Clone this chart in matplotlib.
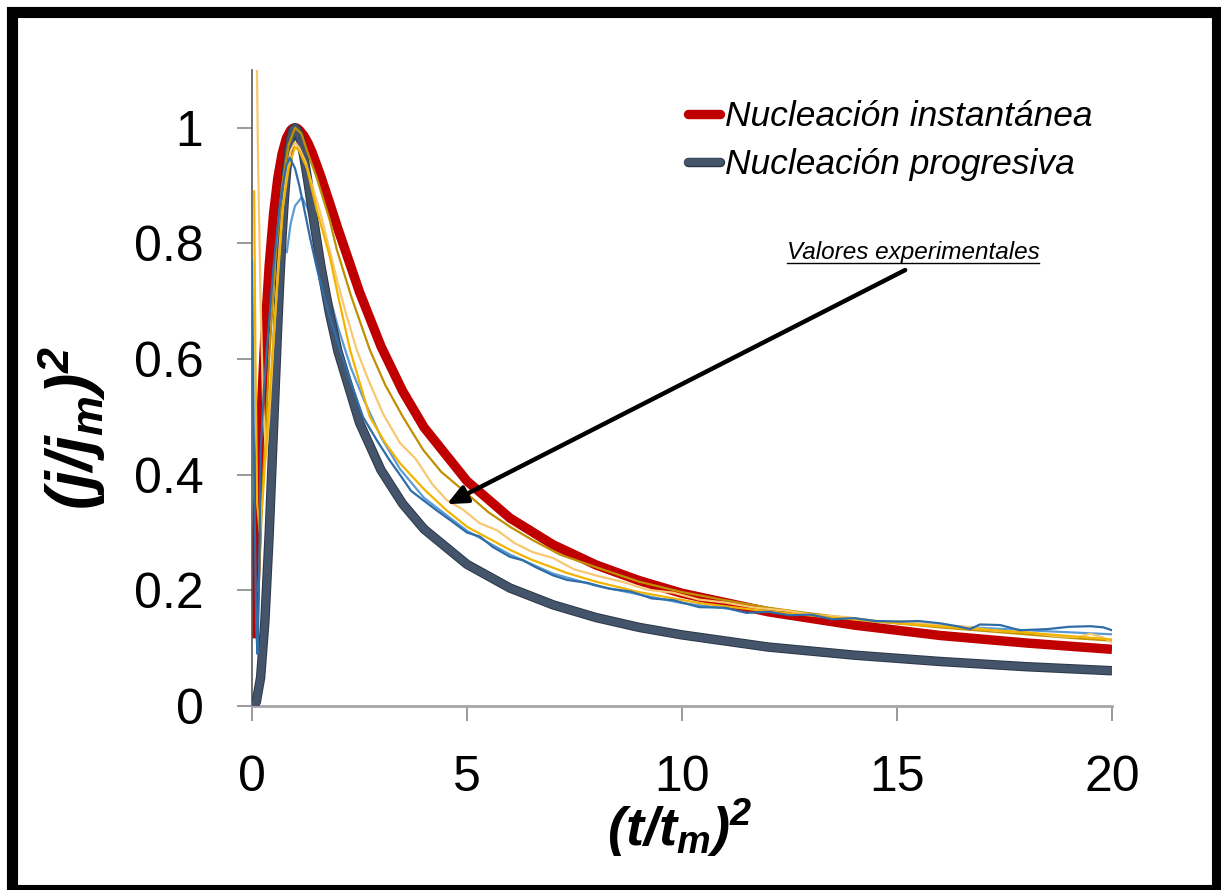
import matplotlib
matplotlib.use("Agg")
import matplotlib.pyplot as plt
from matplotlib.lines import Line2D
from matplotlib.patches import Rectangle
from matplotlib.font_manager import FontProperties
import matplotlib.patheffects as pe

plt.rcParams['font.family'] = ['Liberation Sans', 'DejaVu Sans']
plt.rcParams['mathtext.fontset'] = 'custom'
plt.rcParams['mathtext.rm'] = 'Liberation Sans:italic:bold'
plt.rcParams['mathtext.it'] = 'Liberation Sans:italic:bold'
plt.rcParams['mathtext.bf'] = 'Liberation Sans:italic:bold'

# ---------------- data ----------------
x_inst = [0.04, 0.07, 0.1, 0.15, 0.2, 0.3, 0.4, 0.5, 0.6, 0.7, 0.8, 0.9, 0.95, 1.0, 1.05, 1.1,
          1.2, 1.3, 1.4, 1.6, 1.8, 2.0, 2.5, 3.0, 3.5, 4.0, 5.0, 6.0, 7.0, 8.0, 9.0, 10.0,
          12.0, 14.0, 16.0, 18.0, 20.0]
y_inst = [0.117, 0.198, 0.272, 0.384, 0.482, 0.642, 0.762, 0.850, 0.913, 0.955, 0.982, 0.996,
          0.999, 1.000, 0.999, 0.996, 0.987, 0.974, 0.957, 0.916, 0.871, 0.825, 0.716, 0.622,
          0.545, 0.482, 0.389, 0.325, 0.279, 0.244, 0.217, 0.195, 0.163, 0.140, 0.122, 0.109,
          0.098]

x_prog = [0.0, 0.1, 0.2, 0.3, 0.4, 0.5, 0.6, 0.65, 0.7, 0.75, 0.8, 0.85, 0.9, 0.95, 1.0, 1.05,
          1.1, 1.15, 1.2, 1.25, 1.3, 1.4, 1.5, 1.6, 1.8, 2.0, 2.5, 3.0, 3.5, 4.0, 5.0, 6.0,
          7.0, 8.0, 9.0, 10.0, 12.0, 14.0, 16.0, 18.0, 20.0]
y_prog = [0.0, 0.007, 0.049, 0.147, 0.298, 0.480, 0.661, 0.742, 0.814, 0.874, 0.922, 0.958,
          0.982, 0.996, 1.000, 0.996, 0.986, 0.971, 0.952, 0.930, 0.907, 0.857, 0.809, 0.762,
          0.680, 0.613, 0.490, 0.408, 0.350, 0.306, 0.245, 0.204, 0.175, 0.153, 0.136, 0.123,
          0.102, 0.088, 0.077, 0.068, 0.061]

# experimental transients
x_exp_orange = [0.09, 0.14, 0.2, 0.26, 0.33, 0.4, 0.5, 0.6, 0.7, 0.8, 0.9, 1.0, 1.1, 1.25, 1.4,
                1.6, 1.8, 2.0, 2.2, 2.44, 2.7, 3.05, 3.44, 3.8, 4.2, 4.53, 4.9, 5.3, 5.7, 6.1,
                6.53, 7.0, 7.5, 8.09, 8.6, 9.2, 9.8, 10.4, 11.0, 11.7, 12.4, 13.1, 13.8, 14.5,
                15.2, 15.9, 16.6, 17.3, 18.0, 18.7, 19.2, 19.5, 19.8, 20.0]
y_exp_orange = [1.25, 0.95, 0.70, 0.52, 0.43, 0.50, 0.63, 0.75, 0.85, 0.92, 0.96, 0.975, 0.965,
                0.94, 0.90, 0.85, 0.79, 0.73, 0.675, 0.615, 0.565, 0.505, 0.455, 0.428, 0.383,
                0.356, 0.340, 0.316, 0.304, 0.282, 0.266, 0.256, 0.236, 0.224, 0.215, 0.201,
                0.196, 0.184, 0.179, 0.170, 0.165, 0.157, 0.154, 0.147, 0.146, 0.140, 0.137,
                0.130, 0.128, 0.121, 0.119, 0.125, 0.118, 0.110]

x_exp_gold = [0.05, 0.08, 0.12, 0.18, 0.25, 0.33, 0.45, 0.6, 0.72, 0.85, 1.0, 1.1, 1.28, 1.5,
              1.81, 2.0, 2.28, 2.74, 3.1, 3.44, 4.0, 4.5, 5.0, 5.5, 6.0, 6.5, 7.33, 8.0, 9.0,
              10.4, 11.5, 12.5, 13.5, 15.0, 16.5, 18.0, 19.0, 20.0]
y_exp_gold = [0.89, 0.60, 0.35, 0.30, 0.36, 0.45, 0.58, 0.74, 0.863, 0.93, 0.967, 0.96, 0.93,
              0.86, 0.777, 0.71, 0.616, 0.50, 0.455, 0.42, 0.375, 0.34, 0.31, 0.29, 0.27, 0.253,
              0.23, 0.215, 0.197, 0.178, 0.168, 0.160, 0.153, 0.143, 0.135, 0.127, 0.121, 0.115]

x_exp_olive = [0.15, 0.25, 0.4, 0.55, 0.7, 0.85, 1.0, 1.15, 1.28, 1.5, 1.81, 1.97, 2.3, 2.74,
               3.1, 3.51, 3.98, 4.4, 4.91, 5.5, 6.0, 6.5, 7.16, 8.0, 9.0, 10.0, 11.0, 12.0,
               13.0, 14.0, 15.0, 16.0, 17.0, 18.0, 19.0, 20.0]
y_exp_olive = [0.20, 0.38, 0.60, 0.78, 0.90, 0.97, 1.00, 0.99, 0.96, 0.915, 0.84, 0.79, 0.71,
               0.616, 0.555, 0.50, 0.443, 0.405, 0.373, 0.335, 0.310, 0.288, 0.262, 0.240,
               0.215, 0.197, 0.183, 0.170, 0.160, 0.151, 0.143, 0.136, 0.130, 0.124, 0.118, 0.113]

x_exp_blue = [0.0, 0.05, 0.1, 0.13, 0.17, 0.2, 0.28, 0.35, 0.5, 0.65, 0.8, 0.88, 1.0, 1.1, 1.2,
              1.35, 1.5, 1.65, 1.8, 2.05, 2.3, 2.58, 2.9, 3.2, 3.44, 3.7, 4.0, 4.3, 4.6, 5.0,
              5.3, 5.6, 6.0, 6.3, 6.6, 7.0, 7.33, 7.8, 8.3, 8.8, 9.3, 9.8, 10.4, 11.0, 11.5,
              12.0, 12.5, 13.0, 13.5, 14.0, 14.5, 15.07, 15.5, 16.0, 16.4, 16.7, 16.93, 17.4,
              17.86, 18.5, 19.0, 19.5, 19.8, 20.0]
y_exp_blue = [0.77, 0.40, 0.13, 0.09, 0.25, 0.44, 0.55, 0.62, 0.76, 0.87, 0.935, 0.948, 0.93,
              0.90, 0.865, 0.81, 0.76, 0.715, 0.675, 0.616, 0.56, 0.50, 0.46, 0.425, 0.40,
              0.372, 0.355, 0.338, 0.322, 0.30, 0.293, 0.275, 0.258, 0.252, 0.24, 0.226, 0.218,
              0.213, 0.203, 0.198, 0.186, 0.183, 0.171, 0.170, 0.161, 0.163, 0.157, 0.158,
              0.150, 0.152, 0.147, 0.146, 0.147, 0.143, 0.138, 0.133, 0.141, 0.140, 0.131,
              0.133, 0.137, 0.138, 0.136, 0.131]

x_exp_lightblue = [0.81, 0.9, 1.0, 1.16, 1.3, 1.45, 1.6, 1.8, 2.0, 2.3, 2.6, 3.0, 3.44, 4.0,
                   5.0, 6.0, 7.0, 8.0, 10.0, 12.0, 14.0, 16.0, 18.0, 20.0]
y_exp_lightblue = [0.785, 0.835, 0.865, 0.88, 0.86, 0.82, 0.77, 0.71, 0.655, 0.585, 0.53,
                   0.465, 0.41, 0.36, 0.303, 0.262, 0.229, 0.208, 0.178, 0.160, 0.148, 0.139,
                   0.131, 0.124]

legend_labels = ['Nucleación instantánea', 'Nucleación progresiva']
annotation_text = 'Valores experimentales'
x_ticks = [0, 5, 10, 15, 20]
y_ticks = [0, 0.2, 0.4, 0.6, 0.8, 1.0]
y_tick_labels = ['0', '0.2', '0.4', '0.6', '0.8', '1']

# ---------------- figure ----------------
W, H = 1221, 890
fig = plt.figure(figsize=(W / 100, H / 100), dpi=100)
fig.patch.set_facecolor('white')
ax = fig.add_axes([252 / W, 1 - 706 / H, 860 / W, 636 / H])

RED = '#C00000'
NAVY = '#44546A'

ax.plot(x_exp_lightblue, y_exp_lightblue, color='#5B9BD5', lw=1.6, zorder=1)
l_inst, = ax.plot(x_inst, y_inst, color=RED, lw=6.8, solid_capstyle='butt',
                  solid_joinstyle='round', zorder=2, label=legend_labels[0])
l_prog, = ax.plot(x_prog, y_prog, color=NAVY, lw=5.4, solid_capstyle='butt',
                  solid_joinstyle='round', zorder=3, label=legend_labels[1],
                  path_effects=[pe.Stroke(linewidth=6.8, foreground='#2B3648'), pe.Normal()])

ax.plot(x_exp_olive, y_exp_olive, color='#BF9000', lw=1.6, zorder=4)
ax.plot(x_exp_orange, y_exp_orange, color='#F8C870', lw=1.6, zorder=4)
ax.plot(x_exp_gold, y_exp_gold, color='#F2B400', lw=1.6, zorder=4)
ax.plot(x_exp_blue, y_exp_blue, color='#2E6DA8', lw=1.6, zorder=5)

ax.set_xlim(0, 20)
ax.set_ylim(0, 1.1)
ax.set_xticks(x_ticks)
ax.set_xticklabels([str(v) for v in x_ticks])
ax.set_yticks(y_ticks)
ax.set_yticklabels(y_tick_labels)

for s in ['top', 'right']:
    ax.spines[s].set_visible(False)
ax.spines['left'].set_color('#595959')
ax.spines['left'].set_linewidth(1.2)
ax.spines['bottom'].set_color('#A6A6A6')
ax.spines['bottom'].set_linewidth(2.0)
ax.tick_params(axis='y', direction='out', length=11, width=1.1, color='#7F7F7F',
               labelsize=36, pad=24)
ax.tick_params(axis='x', direction='out', length=11, width=1.1, color='#7F7F7F',
               labelsize=36, pad=24)

ax.set_xlabel(r'$(t/t_m)^2$', fontsize=39)
ax.xaxis.set_label_coords((680 - 252) / 860, -(828 - 706) / 636)
ax.xaxis.label.set_va('center')
ax.set_ylabel(r'$(j/j_m)^2$', fontsize=46)
ax.yaxis.set_label_coords((72 - 252) / 860, (706 - 428) / 636)
ax.yaxis.label.set_va('center')

leg = ax.legend(handles=[l_inst, l_prog], loc='upper left',
                bbox_to_anchor=(688 / W, 1 - 100 / H), bbox_transform=fig.transFigure,
                frameon=False, handlelength=0.9, handletextpad=0.15, borderpad=0,
                borderaxespad=0, labelspacing=0.43,
                prop=FontProperties(family='Liberation Sans', style='italic', size=25.5))
for h in leg.get_lines():
    h.set_solid_capstyle('round')

# annotation with arrow
txt = ax.text(15.37, 0.784, annotation_text, style='italic', fontsize=17.5,
              ha='center', va='center', zorder=6)
ax.annotate('', xy=(4.53, 0.349), xytext=(15.19, 0.754),
            arrowprops=dict(arrowstyle='-|>,head_length=1.0,head_width=0.45',
                            lw=3.2, color='black', shrinkA=0, shrinkB=0,
                            mutation_scale=12), zorder=6)

fig.canvas.draw()
bb = txt.get_window_extent()
uy = (bb.y0 + 1) / H
fig.add_artist(Line2D([bb.x0 / W, bb.x1 / W], [uy, uy], transform=fig.transFigure,
                      color='black', lw=1.0))

# figure border
fig.add_artist(Rectangle((11.5 / W, 1 - 889.5 / H), (1216.5 - 11.5) / W, (889.5 - 11.5) / H,
                         transform=fig.transFigure, fill=False, ec='black', lw=8.0))

fig.savefig('out.png', dpi=100, facecolor='white')
